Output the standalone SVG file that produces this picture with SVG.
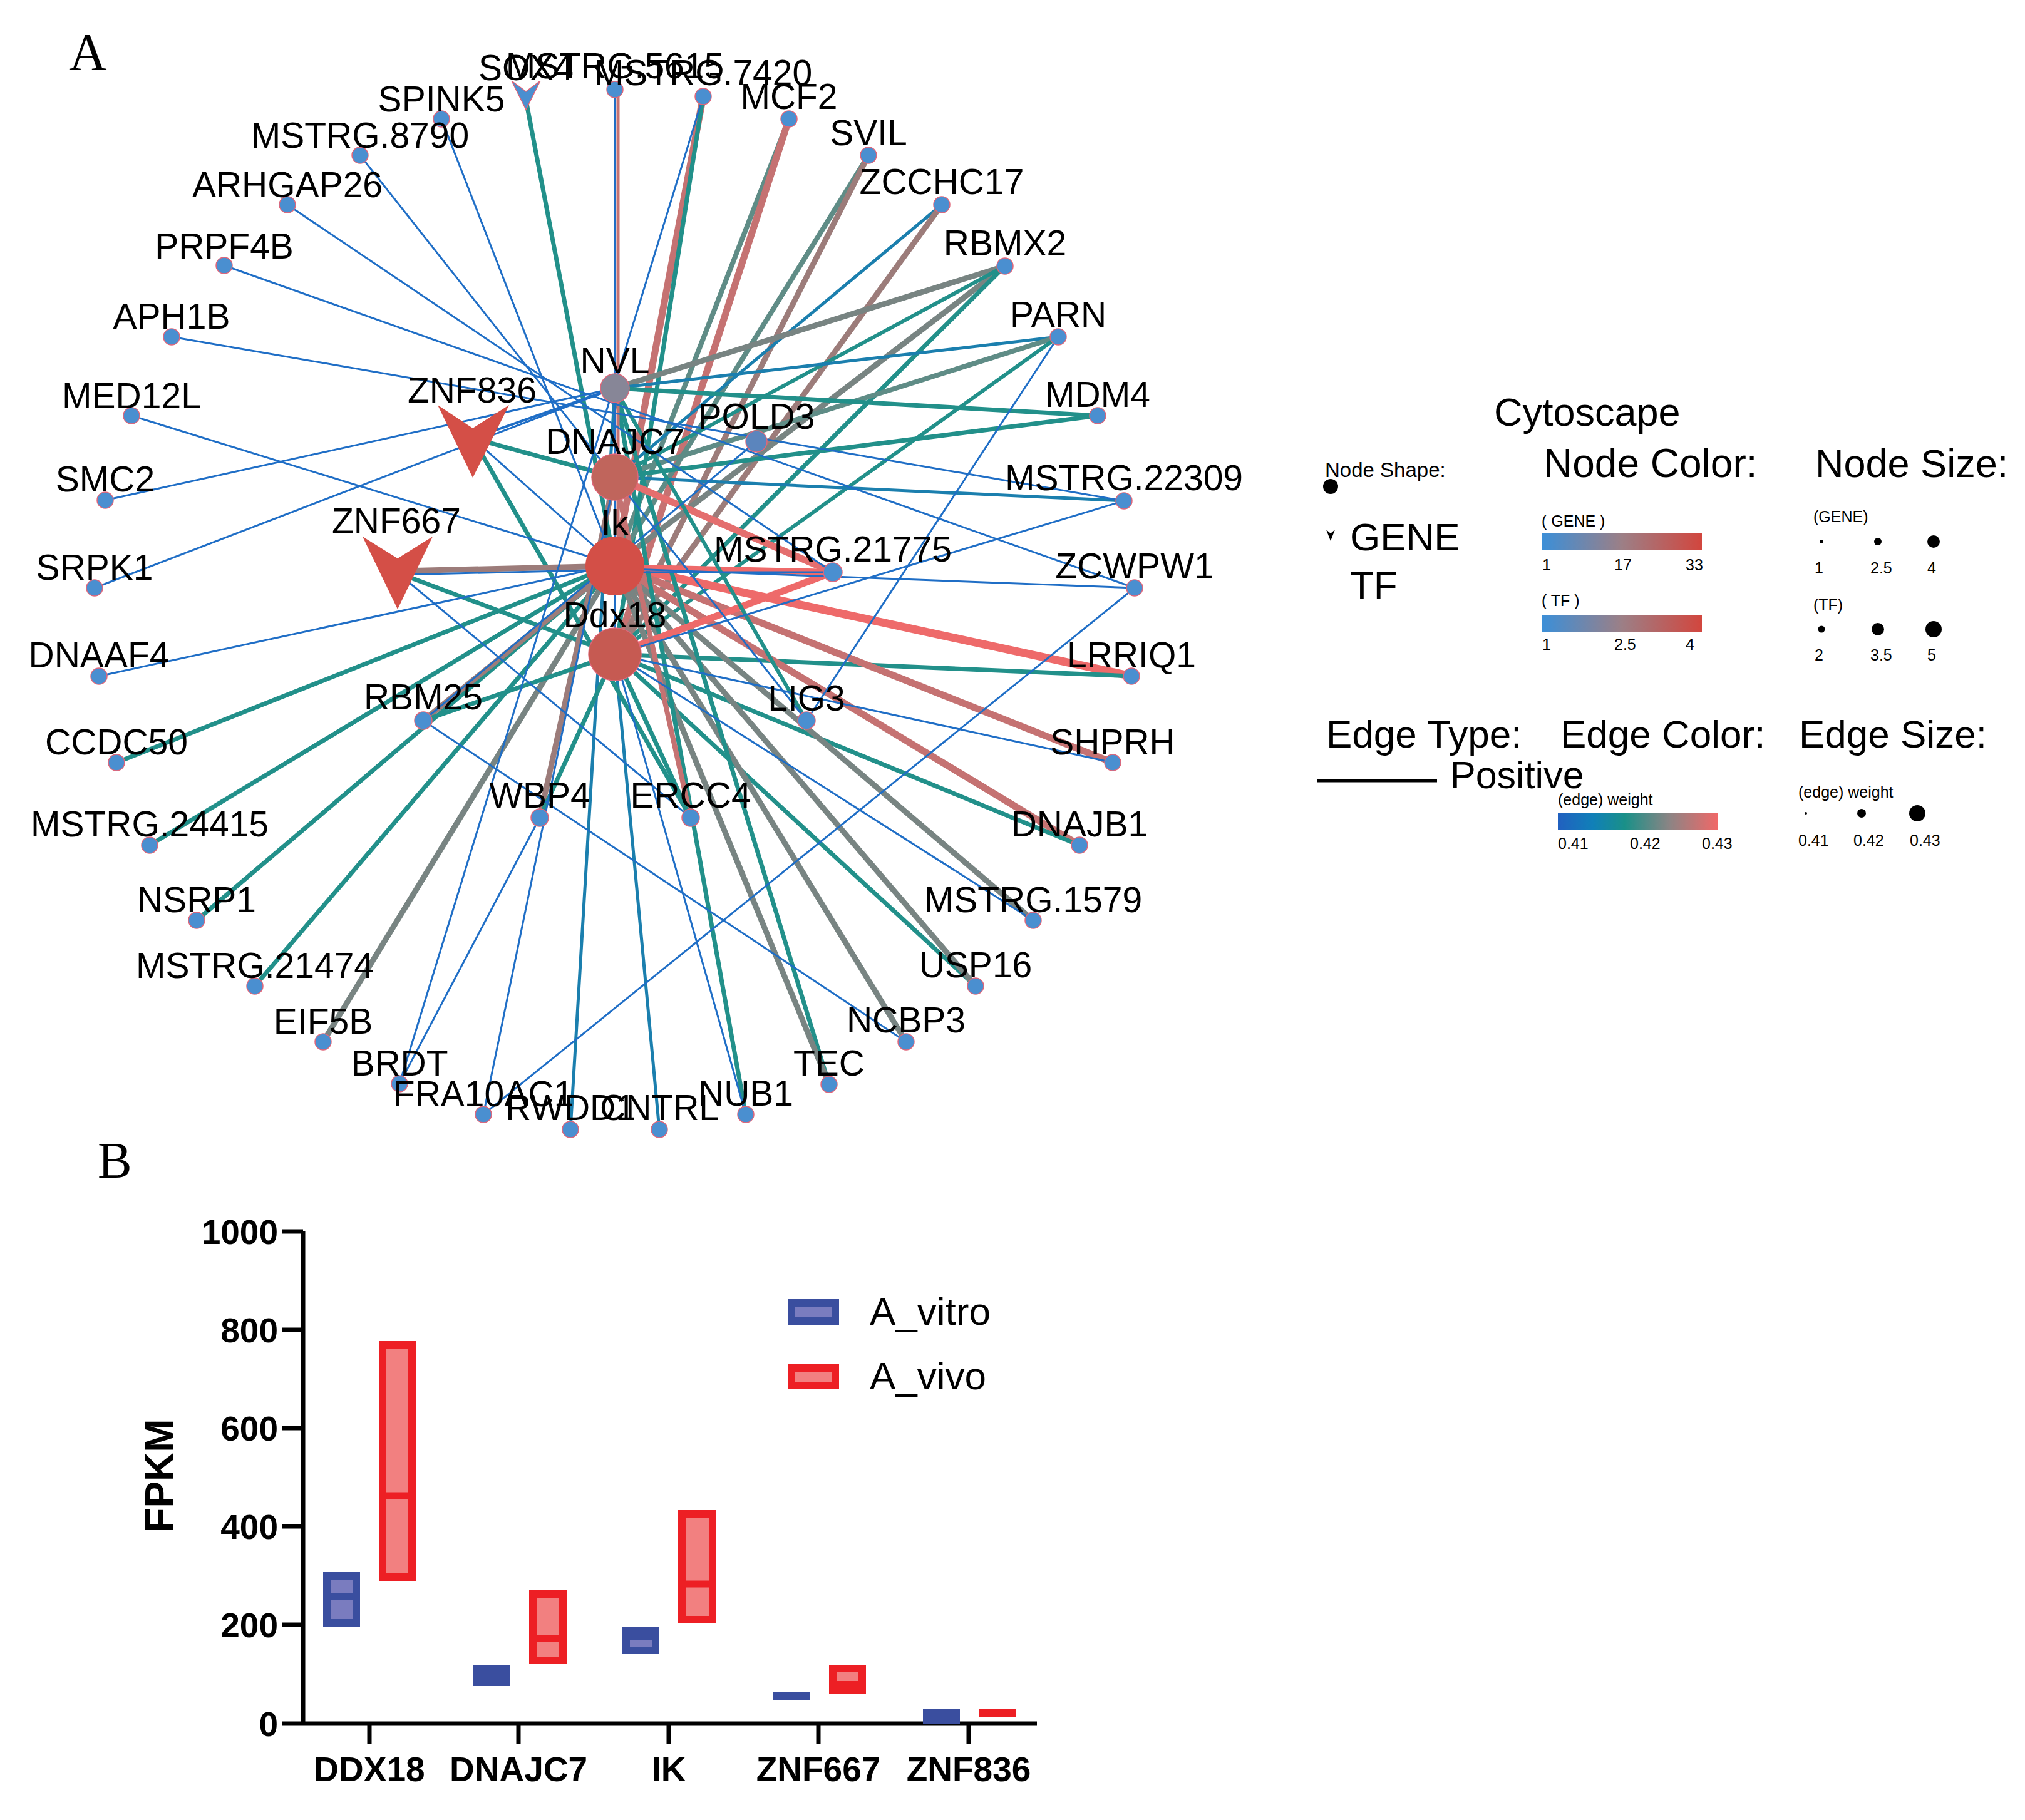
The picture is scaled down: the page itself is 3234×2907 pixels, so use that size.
<svg xmlns="http://www.w3.org/2000/svg" width="3234" height="2907" viewBox="0 0 3234 2907">
<defs>
<style>
text{font-family:"Liberation Sans",Arial,sans-serif;fill:#000}
.lbl{font-size:57px;text-anchor:middle}
.serif{font-family:"Liberation Serif","Times New Roman",serif}
#edges line{stroke-linecap:round;fill:none}
.b{stroke:#1f6ec6;stroke-width:3}
.bt{stroke:#1b7fae;stroke-width:5}
.t{stroke:#22908a;stroke-width:7}
.gt{stroke:#5f8c86;stroke-width:8}
.g{stroke:#788482;stroke-width:9}
.gp{stroke:#9c7c7a;stroke-width:9}
.rb{stroke:#c57272;stroke-width:11}
.r{stroke:#ee6a6a;stroke-width:13}
.gene{fill:#4a8fd0;stroke:#e0667a;stroke-width:1.5}
.tfv{fill:#d44f47}
.leg{font-size:62px}
.sm{font-size:25px}
.tick{font-size:55px;font-weight:bold;text-anchor:end}
.xl{font-size:55px;font-weight:bold;text-anchor:middle}
.ax{stroke:#000;stroke-width:7;fill:none}
.bv{fill:#7a7cbf;stroke:#3a4e9f;stroke-width:12}
.rv{fill:#f28080;stroke:#ed1f24;stroke-width:12}
</style>
<linearGradient id="ncol" x1="0" y1="0" x2="1" y2="0">
<stop offset="0" stop-color="#3b8fd8"/><stop offset="0.5" stop-color="#9c7f86"/><stop offset="1" stop-color="#d2463e"/>
</linearGradient>
<linearGradient id="ecol" x1="0" y1="0" x2="1" y2="0">
<stop offset="0" stop-color="#2160c0"/><stop offset="0.22" stop-color="#1080b8"/><stop offset="0.42" stop-color="#1a9088"/><stop offset="0.7" stop-color="#8c8484"/><stop offset="1" stop-color="#f06868"/>
</linearGradient>
</defs>
<rect width="3234" height="2907" fill="#fff"/>

<text class="serif" x="110" y="112" font-size="84">A</text>
<text class="serif" x="156" y="1881" font-size="82">B</text>

<g id="edges">
<line class="gt" x1="1260" y1="190" x2="982" y2="902"/>
<line class="rb" x1="1260" y1="190" x2="982" y2="1045"/>
<line class="rb" x1="1123" y1="154" x2="982" y2="902"/>
<line class="t" x1="1123" y1="154" x2="982" y2="1045"/>
<line class="gt" x1="1387" y1="248" x2="982" y2="902"/>
<line class="gp" x1="1387" y1="248" x2="982" y2="1045"/>
<line class="bt" x1="1504" y1="327" x2="982" y2="762"/>
<line class="gp" x1="1504" y1="327" x2="982" y2="1045"/>
<line class="g" x1="1605" y1="425" x2="982" y2="620"/>
<line class="g" x1="1605" y1="425" x2="982" y2="902"/>
<line class="t" x1="1605" y1="425" x2="982" y2="1045"/>
<line class="t" x1="1605" y1="425" x2="982" y2="762" style="stroke-width:6"/>
<line class="bt" x1="1690" y1="538" x2="982" y2="620"/>
<line class="gt" x1="1690" y1="538" x2="982" y2="762"/>
<line class="t" x1="1690" y1="538" x2="982" y2="1045" style="stroke-width:6"/>
<line class="t" x1="1753" y1="664" x2="982" y2="620"/>
<line class="t" x1="1753" y1="664" x2="982" y2="762"/>
<line class="bt" x1="1795" y1="800" x2="982" y2="762"/>
<line class="r" x1="982" y1="902" x2="1807" y2="1080"/>
<line class="t" x1="982" y1="1045" x2="1807" y2="1080"/>
<line class="rb" x1="982" y1="902" x2="1777" y2="1218"/>
<line class="rb" x1="982" y1="902" x2="1724" y2="1350"/>
<line class="t" x1="982" y1="1045" x2="1724" y2="1350"/>
<line class="g" x1="982" y1="902" x2="1650" y2="1470"/>
<line class="t" x1="982" y1="1045" x2="1558" y2="1575"/>
<line class="g" x1="982" y1="902" x2="1558" y2="1575"/>
<line class="g" x1="982" y1="902" x2="1447" y2="1664"/>
<line class="t" x1="982" y1="620" x2="1324" y2="1732"/>
<line class="g" x1="982" y1="902" x2="1324" y2="1732"/>
<line class="t" x1="982" y1="620" x2="1191" y2="1780"/>
<line class="bt" x1="982" y1="1045" x2="1053" y2="1804"/>
<line class="bt" x1="982" y1="620" x2="911" y2="1804"/>
<line class="g" x1="982" y1="902" x2="516" y2="1664"/>
<line class="t" x1="982" y1="902" x2="407" y2="1575"/>
<line class="t" x1="982" y1="902" x2="314" y2="1470"/>
<line class="t" x1="982" y1="902" x2="239" y2="1350"/>
<line class="t" x1="982" y1="902" x2="186" y2="1218"/>
<line class="t" x1="840" y1="160" x2="982" y2="902"/>
<line class="rb" x1="987" y1="143" x2="987" y2="902" style="stroke-width:5"/>
<line class="t" x1="755" y1="700" x2="982" y2="762"/>
<line class="t" x1="755" y1="700" x2="1103" y2="1306"/>
<line class="gp" x1="640" y1="912" x2="982" y2="904"/>
<line class="t" x1="635" y1="915" x2="982" y2="1045"/>
<line class="r" x1="982" y1="906" x2="1330" y2="914" style="stroke-width:10"/>
<line class="r" x1="982" y1="762" x2="1330" y2="914" style="stroke-width:11;stroke:#e46e6e"/>
<line class="r" x1="982" y1="1045" x2="1330" y2="914" style="stroke-width:11"/>
<line class="t" x1="982" y1="620" x2="1288" y2="1151" style="stroke-width:6"/>
<line class="rb" x1="982" y1="762" x2="1103" y2="1306" style="stroke-width:8"/>
<line class="t" x1="982" y1="1045" x2="1103" y2="1306"/>
<line class="gp" x1="982" y1="762" x2="862" y2="1306"/>
<line class="t" x1="982" y1="1045" x2="862" y2="1306"/>
<line class="gp" x1="982" y1="902" x2="676" y2="1151"/>
<line class="t" x1="982" y1="1045" x2="676" y2="1151"/>
<line class="b" x1="982" y1="143" x2="982" y2="1045" style="stroke-width:4"/>
<line class="b" x1="1690" y1="538" x2="1288" y2="1151"/>
<line class="b" x1="274" y1="538" x2="1795" y2="800"/>
<line class="b" x1="982" y1="1045" x2="1795" y2="800"/>
<line class="b" x1="982" y1="908" x2="1812" y2="939"/>
<line class="b" x1="358" y1="424" x2="1812" y2="939"/>
<line class="b" x1="772" y1="1780" x2="1812" y2="939"/>
<line class="b" x1="982" y1="1045" x2="1777" y2="1218"/>
<line class="b" x1="982" y1="1045" x2="1650" y2="1470"/>
<line class="b" x1="676" y1="1151" x2="1447" y2="1664"/>
<line class="b" x1="982" y1="1045" x2="1191" y2="1780"/>
<line class="b" x1="982" y1="762" x2="772" y2="1780"/>
<line class="b" x1="1123" y1="154" x2="638" y2="1731"/>
<line class="b" x1="862" y1="1306" x2="638" y2="1731"/>
<line class="b" x1="982" y1="902" x2="158" y2="1080"/>
<line class="b" x1="982" y1="620" x2="151" y2="939"/>
<line class="b" x1="982" y1="620" x2="168" y2="799"/>
<line class="b" x1="982" y1="902" x2="210" y2="664"/>
<line class="b" x1="459" y1="327" x2="1330" y2="914"/>
<line class="b" x1="575" y1="248" x2="1288" y2="1151"/>
<line class="b" x1="705" y1="190" x2="982" y2="902"/>
<line class="b" x1="755" y1="700" x2="982" y2="620" style="stroke-width:4"/>
<line class="b" x1="755" y1="700" x2="982" y2="902"/>
<line class="b" x1="640" y1="918" x2="982" y2="910"/>
<line class="b" x1="635" y1="915" x2="1103" y2="1306"/>
<line class="b" x1="1208" y1="705" x2="676" y2="1151"/>
<line class="b" x1="982" y1="914" x2="1330" y2="914"/>
</g>

<g id="nodes">
<g id="n-SOX4"><polygon class="gene" points="817,129 840,146 863,129 840,175"/><text class="lbl" x="840" y="128">SOX4</text></g>
<g id="n-MSTRG5615"><circle class="gene" cx="982" cy="143" r="13"/><text class="lbl" x="982" y="125">MSTRG.5615</text></g>
<g id="n-MSTRG7420"><circle class="gene" cx="1123" cy="154" r="13"/><text class="lbl" x="1123" y="136">MSTRG.7420</text></g>
<g id="n-SPINK5"><circle class="gene" cx="705" cy="190" r="13"/><text class="lbl" x="705" y="178">SPINK5</text></g>
<g id="n-MCF2"><circle class="gene" cx="1260" cy="190" r="13"/><text class="lbl" x="1260" y="174">MCF2</text></g>
<g id="n-MSTRG8790"><circle class="gene" cx="575" cy="248" r="13"/><text class="lbl" x="575" y="236">MSTRG.8790</text></g>
<g id="n-SVIL"><circle class="gene" cx="1387" cy="248" r="13"/><text class="lbl" x="1387" y="232">SVIL</text></g>
<g id="n-ARHGAP26"><circle class="gene" cx="459" cy="327" r="13"/><text class="lbl" x="459" y="315">ARHGAP26</text></g>
<g id="n-ZCCHC17"><circle class="gene" cx="1504" cy="327" r="13"/><text class="lbl" x="1504" y="310">ZCCHC17</text></g>
<g id="n-PRPF4B"><circle class="gene" cx="358" cy="424" r="13"/><text class="lbl" x="358" y="413">PRPF4B</text></g>
<g id="n-RBMX2"><circle class="gene" cx="1605" cy="425" r="13"/><text class="lbl" x="1605" y="408">RBMX2</text></g>
<g id="n-APH1B"><circle class="gene" cx="274" cy="538" r="13"/><text class="lbl" x="274" y="525">APH1B</text></g>
<g id="n-PARN"><circle class="gene" cx="1690" cy="538" r="13"/><text class="lbl" x="1690" y="522">PARN</text></g>
<g id="n-MED12L"><circle class="gene" cx="210" cy="664" r="13"/><text class="lbl" x="210" y="652">MED12L</text></g>
<g id="n-MDM4"><circle class="gene" cx="1753" cy="664" r="13"/><text class="lbl" x="1753" y="650">MDM4</text></g>
<g id="n-SMC2"><circle class="gene" cx="168" cy="799" r="13"/><text class="lbl" x="168" y="785">SMC2</text></g>
<g id="n-MSTRG22309"><circle class="gene" cx="1795" cy="800" r="13"/><text class="lbl" x="1795" y="783">MSTRG.22309</text></g>
<g id="n-SRPK1"><circle class="gene" cx="151" cy="939" r="13"/><text class="lbl" x="151" y="926">SRPK1</text></g>
<g id="n-ZCWPW1"><circle class="gene" cx="1812" cy="939" r="13"/><text class="lbl" x="1812" y="924">ZCWPW1</text></g>
<g id="n-DNAAF4"><circle class="gene" cx="158" cy="1080" r="13"/><text class="lbl" x="158" y="1066">DNAAF4</text></g>
<g id="n-LRRIQ1"><circle class="gene" cx="1807" cy="1080" r="13"/><text class="lbl" x="1807" y="1066">LRRIQ1</text></g>
<g id="n-CCDC50"><circle class="gene" cx="186" cy="1218" r="13"/><text class="lbl" x="186" y="1205">CCDC50</text></g>
<g id="n-SHPRH"><circle class="gene" cx="1777" cy="1218" r="13"/><text class="lbl" x="1777" y="1205">SHPRH</text></g>
<g id="n-MSTRG24415"><circle class="gene" cx="239" cy="1350" r="13"/><text class="lbl" x="239" y="1336">MSTRG.24415</text></g>
<g id="n-DNAJB1"><circle class="gene" cx="1724" cy="1350" r="13"/><text class="lbl" x="1724" y="1336">DNAJB1</text></g>
<g id="n-NSRP1"><circle class="gene" cx="314" cy="1470" r="13"/><text class="lbl" x="314" y="1457">NSRP1</text></g>
<g id="n-MSTRG1579"><circle class="gene" cx="1650" cy="1470" r="13"/><text class="lbl" x="1650" y="1457">MSTRG.1579</text></g>
<g id="n-MSTRG21474"><circle class="gene" cx="407" cy="1575" r="13"/><text class="lbl" x="407" y="1562">MSTRG.21474</text></g>
<g id="n-USP16"><circle class="gene" cx="1558" cy="1575" r="13"/><text class="lbl" x="1558" y="1561">USP16</text></g>
<g id="n-EIF5B"><circle class="gene" cx="516" cy="1664" r="13"/><text class="lbl" x="516" y="1651">EIF5B</text></g>
<g id="n-NCBP3"><circle class="gene" cx="1447" cy="1664" r="13"/><text class="lbl" x="1447" y="1649">NCBP3</text></g>
<g id="n-BRDT"><circle class="gene" cx="638" cy="1731" r="13"/><text class="lbl" x="638" y="1718">BRDT</text></g>
<g id="n-TEC"><circle class="gene" cx="1324" cy="1732" r="13"/><text class="lbl" x="1324" y="1718">TEC</text></g>
<g id="n-FRA10AC1"><circle class="gene" cx="772" cy="1780" r="13"/><text class="lbl" x="772" y="1767">FRA10AC1</text></g>
<g id="n-NUB1"><circle class="gene" cx="1191" cy="1780" r="13"/><text class="lbl" x="1191" y="1766">NUB1</text></g>
<g id="n-RWDD1"><circle class="gene" cx="911" cy="1804" r="13"/><text class="lbl" x="911" y="1789">RWDD1</text></g>
<g id="n-CNTRL"><circle class="gene" cx="1053" cy="1804" r="13"/><text class="lbl" x="1053" y="1789">CNTRL</text></g>
<g id="n-POLD3"><circle class="gene" cx="1208" cy="705" r="17" style="fill:#5b85bd"/><text class="lbl" x="1208" y="685">POLD3</text></g>
<g id="n-MSTRG21775"><circle class="gene" cx="1330" cy="914" r="15"/><text class="lbl" x="1330" y="897">MSTRG.21775</text></g>
<g id="n-LIG3"><circle class="gene" cx="1288" cy="1151" r="14"/><text class="lbl" x="1288" y="1135">LIG3</text></g>
<g id="n-ERCC4"><circle class="gene" cx="1103" cy="1306" r="14"/><text class="lbl" x="1103" y="1290">ERCC4</text></g>
<g id="n-WBP4"><circle class="gene" cx="862" cy="1306" r="14"/><text class="lbl" x="862" y="1290">WBP4</text></g>
<g id="n-RBM25"><circle class="gene" cx="676" cy="1151" r="14"/><text class="lbl" x="676" y="1133">RBM25</text></g>
<g id="n-ZNF836"><polygon class="tfv" points="699,647 755,684 813,647 755,763"/><text class="lbl" x="754" y="643">ZNF836</text></g>
<g id="n-ZNF667"><polygon class="tfv" points="579,857 635,892 691,857 635,973"/><text class="lbl" x="633" y="852">ZNF667</text></g>
<g id="n-NVL"><circle class="gene" cx="982" cy="620" r="23" style="fill:#878697"/><text class="lbl" x="982" y="596">NVL</text></g>
<g id="n-DNAJC7"><circle class="gene" cx="982" cy="762" r="37" style="fill:#c0655c"/><text class="lbl" x="982" y="725">DNAJC7</text></g>
<g id="n-Ik"><circle cx="982" cy="904" r="47" fill="#d34f47"/><text class="lbl" x="982" y="855">Ik</text></g>
<g id="n-Ddx18"><circle class="gene" cx="982" cy="1045" r="42" style="fill:#c65a52"/><text class="lbl" x="982" y="1002">Ddx18</text></g>
</g>

<g id="legend">
<text class="leg" x="2386" y="680" style="font-size:63px">Cytoscape</text>
<text x="2116" y="762" style="font-size:33px">Node Shape:</text>
<circle cx="2125" cy="777" r="12" fill="#000"/>
<polygon points="2118,846 2125,852 2132,846 2125,864" fill="#000"/>
<text class="leg" x="2156" y="879">GENE</text>
<text class="leg" x="2156" y="956">TF</text>
<text class="leg" x="2465" y="762" style="font-size:64px">Node Color:</text>
<text class="sm" x="2462" y="841">( GENE )</text>
<rect x="2462" y="851" width="256" height="27" fill="url(#ncol)"/>
<text class="sm" x="2463" y="911">1</text><text class="sm" x="2578" y="911">17</text><text class="sm" x="2692" y="911">33</text>
<text class="sm" x="2462" y="968">( TF )</text>
<rect x="2462" y="982" width="256" height="27" fill="url(#ncol)"/>
<text class="sm" x="2463" y="1038">1</text><text class="sm" x="2578" y="1038">2.5</text><text class="sm" x="2692" y="1038">4</text>
<text class="leg" x="2899" y="762" style="font-size:63px">Node Size:</text>
<text class="sm" x="2896" y="834">(GENE)</text>
<circle cx="2909" cy="865" r="3" fill="#000"/><circle cx="2999" cy="865" r="6" fill="#000"/><circle cx="3088" cy="865" r="10" fill="#000"/>
<text class="sm" x="2898" y="916">1</text><text class="sm" x="2987" y="916">2.5</text><text class="sm" x="3078" y="916">4</text>
<text class="sm" x="2896" y="975">(TF)</text>
<circle cx="2909" cy="1005" r="5.5" fill="#000"/><circle cx="2999" cy="1005" r="10" fill="#000"/><circle cx="3088" cy="1005" r="13" fill="#000"/>
<text class="sm" x="2898" y="1055">2</text><text class="sm" x="2987" y="1055">3.5</text><text class="sm" x="3078" y="1055">5</text>
<text class="leg" x="2118" y="1194">Edge Type:</text>
<text class="leg" x="2492" y="1194">Edge Color:</text>
<text class="leg" x="2873" y="1194">Edge Size:</text>
<line x1="2104" y1="1247" x2="2295" y2="1247" stroke="#000" stroke-width="5"/>
<text class="leg" x="2316" y="1259" style="font-size:61px">Positive</text>
<text class="sm" x="2488" y="1286">(edge) weight</text>
<rect x="2488" y="1299" width="255" height="26" fill="url(#ecol)"/>
<text class="sm" x="2488" y="1356">0.41</text><text class="sm" x="2603" y="1356">0.42</text><text class="sm" x="2718" y="1356">0.43</text>
<text class="sm" x="2872" y="1274">(edge) weight</text>
<circle cx="2884" cy="1299" r="2" fill="#000"/><circle cx="2973" cy="1299" r="7" fill="#000"/><circle cx="3062" cy="1299" r="13" fill="#000"/>
<text class="sm" x="2872" y="1351">0.41</text><text class="sm" x="2960" y="1351">0.42</text><text class="sm" x="3050" y="1351">0.43</text>
</g>

<g id="chart">
<path class="ax" d="M484,1967 V2753 M451,2753 H1656"/>
<path class="ax" d="M451,1967 H484 M451,2124 H484 M451,2281 H484 M451,2438 H484 M451,2595 H484 M590,2753 V2786 M828,2753 V2786 M1068,2753 V2786 M1307,2753 V2786 M1547,2753 V2786"/>
<text class="tick" x="444" y="1987">1000</text>
<text class="tick" x="444" y="2144">800</text>
<text class="tick" x="444" y="2301">600</text>
<text class="tick" x="444" y="2458">400</text>
<text class="tick" x="444" y="2615">200</text>
<text class="tick" x="444" y="2773">0</text>
<text x="0" y="0" transform="translate(277,2357) rotate(-90)" style="font-size:64px;font-weight:bold;text-anchor:middle">FPKM</text>
<text class="xl" x="590" y="2845">DDX18</text>
<text class="xl" x="828" y="2845">DNAJC7</text>
<text class="xl" x="1068" y="2845">IK</text>
<text class="xl" x="1307" y="2845">ZNF667</text>
<text class="xl" x="1547" y="2845">ZNF836</text>
<rect class="bv" x="522" y="2517" width="47" height="75"/><line x1="522" y1="2550" x2="569" y2="2550" stroke="#3a4e9f" stroke-width="11"/>
<rect class="rv" x="611" y="2148" width="47" height="371"/><line x1="611" y1="2389" x2="658" y2="2389" stroke="#ed1f24" stroke-width="11"/>
<rect x="755" y="2659" width="59" height="34" fill="#3a4e9f"/>
<rect class="rv" x="851" y="2546" width="48" height="106"/><line x1="851" y1="2617" x2="899" y2="2617" stroke="#ed1f24" stroke-width="11"/>
<rect class="bv" x="1000" y="2604" width="47" height="32"/><line x1="1000" y1="2615" x2="1047" y2="2615" stroke="#3a4e9f" stroke-width="10"/>
<rect class="rv" x="1089" y="2418" width="49" height="169"/><line x1="1089" y1="2530" x2="1138" y2="2530" stroke="#ed1f24" stroke-width="11"/>
<rect x="1235" y="2703" width="58" height="12" fill="#3a4e9f"/>
<rect class="rv" x="1330" y="2665" width="47" height="34"/><line x1="1330" y1="2690" x2="1377" y2="2690" stroke="#ed1f24" stroke-width="10"/>
<rect x="1474" y="2730" width="59" height="23" fill="#3a4e9f"/>
<rect x="1563" y="2730" width="60" height="13" fill="#ed1f24"/>
<rect class="bv" x="1264" y="2081" width="70" height="29"/>
<rect class="rv" x="1264" y="2185" width="70" height="28"/>
<text x="1389" y="2116" style="font-size:62px">A_vitro</text>
<text x="1389" y="2219" style="font-size:62px">A_vivo</text>
</g>
</svg>
